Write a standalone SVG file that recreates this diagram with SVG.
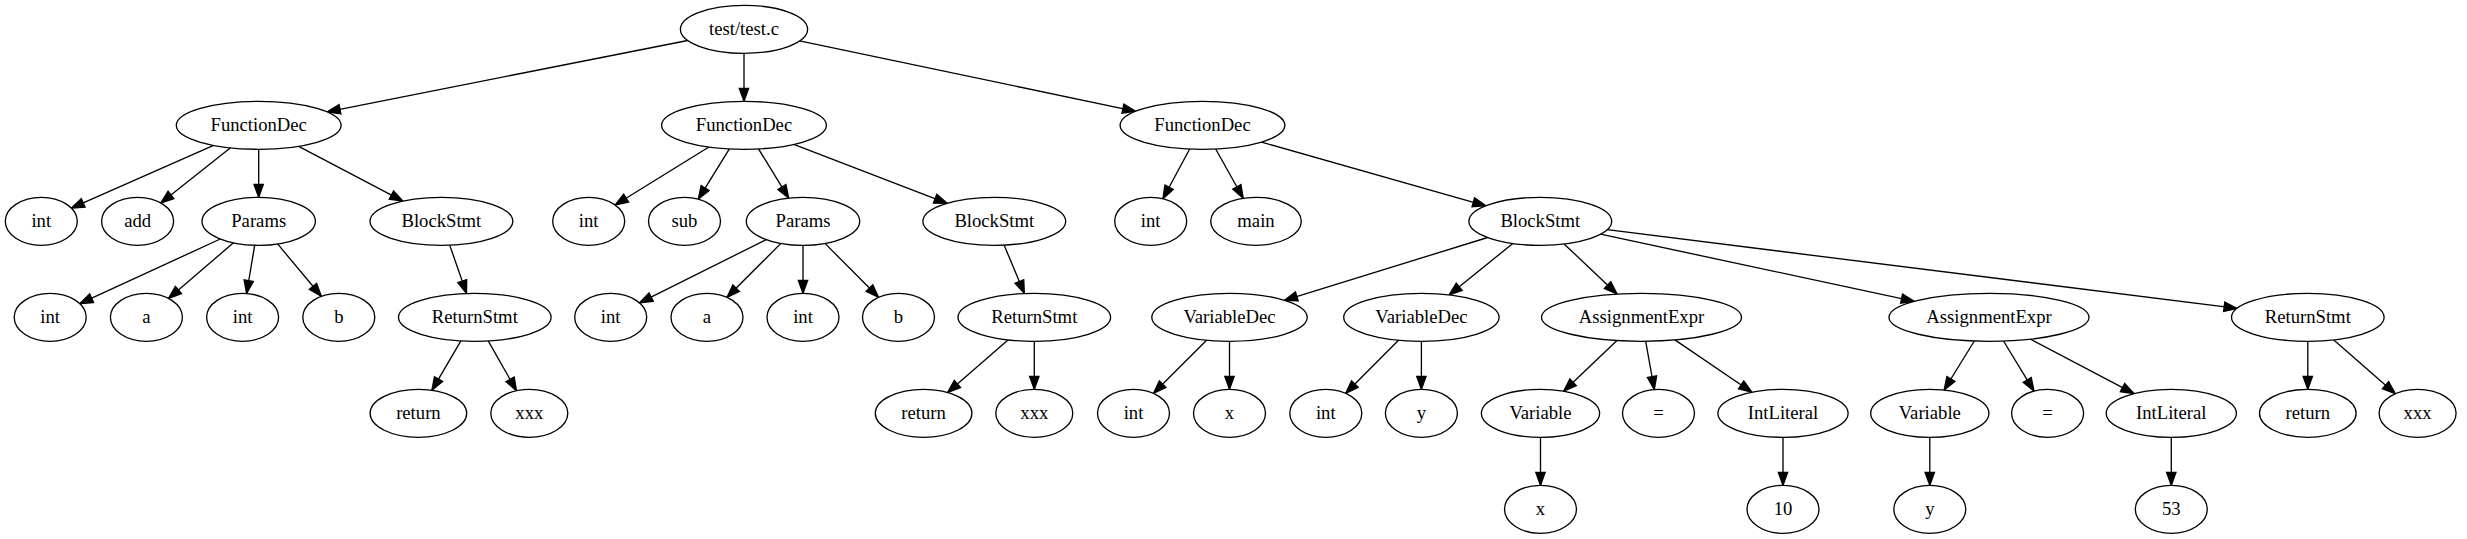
<svg xmlns="http://www.w3.org/2000/svg" width="2467" height="539" viewBox="0 0 2467 539">
<style>
  ellipse { fill: #ffffff; stroke: #000000; stroke-width: 1.33; }
  text { font-family: "Liberation Serif", "Times New Roman", serif; font-size: 18.67px; text-anchor: middle; fill: #000000; }
  .edges line { stroke: #000000; stroke-width: 1.33; marker-end: url(#arrow); }
</style>
<defs>
  <marker id="arrow" markerUnits="userSpaceOnUse" markerWidth="18" markerHeight="14" refX="13" refY="4.7" orient="auto" overflow="visible">
    <path d="M0,0 L13,4.7 L0,9.4 Z" fill="#000000" stroke="#000000" stroke-width="1.33"/>
  </marker>
</defs>
<rect width="2467" height="539" fill="#ffffff"/>
<g class="edges" id="edges">
  <line x1="687.7" y1="40.5" x2="327.2" y2="111.8"/>
  <line x1="744" y1="53.3" x2="744" y2="101.3"/>
  <line x1="799.6" y1="40.9" x2="1135.6" y2="111.3"/>
  <line x1="213.6" y1="145.3" x2="71.3" y2="208.1"/>
  <line x1="230.5" y1="147.8" x2="160.8" y2="203.0"/>
  <line x1="258.7" y1="149.3" x2="258.7" y2="197.3"/>
  <line x1="298.7" y1="146.3" x2="402.9" y2="201.1"/>
  <line x1="220.3" y1="239.0" x2="79.8" y2="303.7"/>
  <line x1="233.5" y1="242.8" x2="168.5" y2="298.4"/>
  <line x1="254.7" y1="245.2" x2="246.6" y2="293.5"/>
  <line x1="277.6" y1="243.9" x2="321.3" y2="296.3"/>
  <line x1="449.7" y1="245.1" x2="466.5" y2="293.4"/>
  <line x1="460.9" y1="340.9" x2="431.9" y2="390.3"/>
  <line x1="488.2" y1="340.9" x2="516.5" y2="390.7"/>
  <line x1="708.9" y1="147.0" x2="615.1" y2="205.0"/>
  <line x1="729.4" y1="148.9" x2="698.3" y2="199.1"/>
  <line x1="758.5" y1="148.9" x2="788.7" y2="198.1"/>
  <line x1="793.8" y1="144.4" x2="947.2" y2="203.3"/>
  <line x1="766.3" y1="239.6" x2="639.5" y2="302.9"/>
  <line x1="780.9" y1="243.4" x2="727.0" y2="297.3"/>
  <line x1="803" y1="245.3" x2="803" y2="293.3"/>
  <line x1="825.0" y1="243.4" x2="878.6" y2="297.3"/>
  <line x1="1004.1" y1="245.1" x2="1024.4" y2="293.5"/>
  <line x1="1008.0" y1="339.9" x2="947.6" y2="392.5"/>
  <line x1="1034.3" y1="341.3" x2="1034.3" y2="389.3"/>
  <line x1="1189.7" y1="149.0" x2="1162.9" y2="198.7"/>
  <line x1="1215.7" y1="149.0" x2="1243.2" y2="198.3"/>
  <line x1="1261.5" y1="142.1" x2="1485.8" y2="205.8"/>
  <line x1="1487.7" y1="237.5" x2="1284.4" y2="300.3"/>
  <line x1="1512.8" y1="243.5" x2="1449.1" y2="294.9"/>
  <line x1="1564.1" y1="243.9" x2="1617.0" y2="294.0"/>
  <line x1="1600.5" y1="234.2" x2="1914.3" y2="301.3"/>
  <line x1="1607.2" y1="229.7" x2="2237.1" y2="308.4"/>
  <line x1="1206.6" y1="340.2" x2="1153.5" y2="393.3"/>
  <line x1="1229.5" y1="341.3" x2="1229.5" y2="389.3"/>
  <line x1="1398.5" y1="340.2" x2="1345.7" y2="393.3"/>
  <line x1="1421.4" y1="341.3" x2="1421.4" y2="389.3"/>
  <line x1="1617.0" y1="340.6" x2="1563.7" y2="391.2"/>
  <line x1="1645.7" y1="341.3" x2="1654.3" y2="389.5"/>
  <line x1="1674.9" y1="339.9" x2="1751.9" y2="392.2"/>
  <line x1="1974.3" y1="341.0" x2="1944.1" y2="390.0"/>
  <line x1="2003.5" y1="341.0" x2="2034.0" y2="391.1"/>
  <line x1="2030.5" y1="339.1" x2="2134.0" y2="393.6"/>
  <line x1="2307.8" y1="341.3" x2="2307.8" y2="389.3"/>
  <line x1="2333.8" y1="339.9" x2="2395.3" y2="393.7"/>
  <line x1="1540.5" y1="437.3" x2="1540.5" y2="485.3"/>
  <line x1="1783" y1="437.3" x2="1783" y2="485.3"/>
  <line x1="1929.8" y1="437.3" x2="1929.8" y2="485.3"/>
  <line x1="2171.3" y1="437.3" x2="2171.3" y2="485.3"/>
</g>
<g id="n_root"><ellipse cx="744" cy="29.3" rx="63.6" ry="24"/><text x="744" y="34.9">test/test.c</text></g>
<g id="n_fd1"><ellipse cx="258.7" cy="125.3" rx="82.4" ry="24"/><text x="258.7" y="130.9">FunctionDec</text></g>
<g id="n_fd2"><ellipse cx="744" cy="125.3" rx="82.4" ry="24"/><text x="744" y="130.9">FunctionDec</text></g>
<g id="n_fd3"><ellipse cx="1202.5" cy="125.3" rx="82.4" ry="24"/><text x="1202.5" y="130.9">FunctionDec</text></g>
<g id="n_fd1_int"><ellipse cx="41.3" cy="221.3" rx="36" ry="24"/><text x="41.3" y="226.9">int</text></g>
<g id="n_fd1_add"><ellipse cx="137.6" cy="221.3" rx="36" ry="24"/><text x="137.6" y="226.9">add</text></g>
<g id="n_fd1_params"><ellipse cx="258.7" cy="221.3" rx="56.7" ry="24"/><text x="258.7" y="226.9">Params</text></g>
<g id="n_fd1_block"><ellipse cx="441.4" cy="221.3" rx="71.4" ry="24"/><text x="441.4" y="226.9">BlockStmt</text></g>
<g id="n_fd2_int"><ellipse cx="588.7" cy="221.3" rx="36" ry="24"/><text x="588.7" y="226.9">int</text></g>
<g id="n_fd2_sub"><ellipse cx="684.5" cy="221.3" rx="36" ry="24"/><text x="684.5" y="226.9">sub</text></g>
<g id="n_fd2_params"><ellipse cx="803" cy="221.3" rx="56.7" ry="24"/><text x="803" y="226.9">Params</text></g>
<g id="n_fd2_block"><ellipse cx="994.3" cy="221.3" rx="71.4" ry="24"/><text x="994.3" y="226.9">BlockStmt</text></g>
<g id="n_fd3_int"><ellipse cx="1150.7" cy="221.3" rx="36" ry="24"/><text x="1150.7" y="226.9">int</text></g>
<g id="n_fd3_main"><ellipse cx="1256" cy="221.3" rx="45.3" ry="24"/><text x="1256" y="226.9">main</text></g>
<g id="n_fd3_block"><ellipse cx="1540.3" cy="221.3" rx="71.4" ry="24"/><text x="1540.3" y="226.9">BlockStmt</text></g>
<g id="n_p1_int1"><ellipse cx="50.2" cy="317.3" rx="36" ry="24"/><text x="50.2" y="322.9">int</text></g>
<g id="n_p1_a"><ellipse cx="146.4" cy="317.3" rx="36" ry="24"/><text x="146.4" y="322.9">a</text></g>
<g id="n_p1_int2"><ellipse cx="242.6" cy="317.3" rx="36" ry="24"/><text x="242.6" y="322.9">int</text></g>
<g id="n_p1_b"><ellipse cx="338.8" cy="317.3" rx="36" ry="24"/><text x="338.8" y="322.9">b</text></g>
<g id="n_rs1"><ellipse cx="474.8" cy="317.3" rx="76.3" ry="24"/><text x="474.8" y="322.9">ReturnStmt</text></g>
<g id="n_p2_int1"><ellipse cx="610.7" cy="317.3" rx="36" ry="24"/><text x="610.7" y="322.9">int</text></g>
<g id="n_p2_a"><ellipse cx="707" cy="317.3" rx="36" ry="24"/><text x="707" y="322.9">a</text></g>
<g id="n_p2_int2"><ellipse cx="803" cy="317.3" rx="36" ry="24"/><text x="803" y="322.9">int</text></g>
<g id="n_p2_b"><ellipse cx="898.5" cy="317.3" rx="36" ry="24"/><text x="898.5" y="322.9">b</text></g>
<g id="n_rs2"><ellipse cx="1034.3" cy="317.3" rx="76.3" ry="24"/><text x="1034.3" y="322.9">ReturnStmt</text></g>
<g id="n_vd1"><ellipse cx="1229.5" cy="317.3" rx="77.7" ry="24"/><text x="1229.5" y="322.9">VariableDec</text></g>
<g id="n_vd2"><ellipse cx="1421.4" cy="317.3" rx="77.7" ry="24"/><text x="1421.4" y="322.9">VariableDec</text></g>
<g id="n_ae1"><ellipse cx="1641.5" cy="317.3" rx="100" ry="24"/><text x="1641.5" y="322.9">AssignmentExpr</text></g>
<g id="n_ae2"><ellipse cx="1989" cy="317.3" rx="100" ry="24"/><text x="1989" y="322.9">AssignmentExpr</text></g>
<g id="n_rs3"><ellipse cx="2307.8" cy="317.3" rx="76.3" ry="24"/><text x="2307.8" y="322.9">ReturnStmt</text></g>
<g id="n_rs1_return"><ellipse cx="418.4" cy="413.3" rx="48.3" ry="24"/><text x="418.4" y="418.9">return</text></g>
<g id="n_rs1_xxx"><ellipse cx="529.3" cy="413.3" rx="38.5" ry="24"/><text x="529.3" y="418.9">xxx</text></g>
<g id="n_rs2_return"><ellipse cx="923.6" cy="413.3" rx="48.3" ry="24"/><text x="923.6" y="418.9">return</text></g>
<g id="n_rs2_xxx"><ellipse cx="1034.3" cy="413.3" rx="38.5" ry="24"/><text x="1034.3" y="418.9">xxx</text></g>
<g id="n_vd1_int"><ellipse cx="1133.5" cy="413.3" rx="36" ry="24"/><text x="1133.5" y="418.9">int</text></g>
<g id="n_vd1_x"><ellipse cx="1229.5" cy="413.3" rx="36" ry="24"/><text x="1229.5" y="418.9">x</text></g>
<g id="n_vd2_int"><ellipse cx="1325.8" cy="413.3" rx="36" ry="24"/><text x="1325.8" y="418.9">int</text></g>
<g id="n_vd2_y"><ellipse cx="1421.4" cy="413.3" rx="36" ry="24"/><text x="1421.4" y="418.9">y</text></g>
<g id="n_var1"><ellipse cx="1540.5" cy="413.3" rx="59.1" ry="24"/><text x="1540.5" y="418.9">Variable</text></g>
<g id="n_eq1"><ellipse cx="1658.5" cy="413.3" rx="36" ry="24"/><text x="1658.5" y="418.9">=</text></g>
<g id="n_il1"><ellipse cx="1783" cy="413.3" rx="65.1" ry="24"/><text x="1783" y="418.9">IntLiteral</text></g>
<g id="n_var2"><ellipse cx="1929.8" cy="413.3" rx="59.1" ry="24"/><text x="1929.8" y="418.9">Variable</text></g>
<g id="n_eq2"><ellipse cx="2047.6" cy="413.3" rx="36" ry="24"/><text x="2047.6" y="418.9">=</text></g>
<g id="n_il2"><ellipse cx="2171.3" cy="413.3" rx="65.1" ry="24"/><text x="2171.3" y="418.9">IntLiteral</text></g>
<g id="n_rs3_return"><ellipse cx="2307.8" cy="413.3" rx="48.3" ry="24"/><text x="2307.8" y="418.9">return</text></g>
<g id="n_rs3_xxx"><ellipse cx="2417.6" cy="413.3" rx="38.5" ry="24"/><text x="2417.6" y="418.9">xxx</text></g>
<g id="n_var1_x"><ellipse cx="1540.5" cy="509.3" rx="36" ry="24"/><text x="1540.5" y="514.9">x</text></g>
<g id="n_il1_10"><ellipse cx="1783" cy="509.3" rx="36" ry="24"/><text x="1783" y="514.9">10</text></g>
<g id="n_var2_y"><ellipse cx="1929.8" cy="509.3" rx="36" ry="24"/><text x="1929.8" y="514.9">y</text></g>
<g id="n_il2_53"><ellipse cx="2171.3" cy="509.3" rx="36" ry="24"/><text x="2171.3" y="514.9">53</text></g>
</svg>
